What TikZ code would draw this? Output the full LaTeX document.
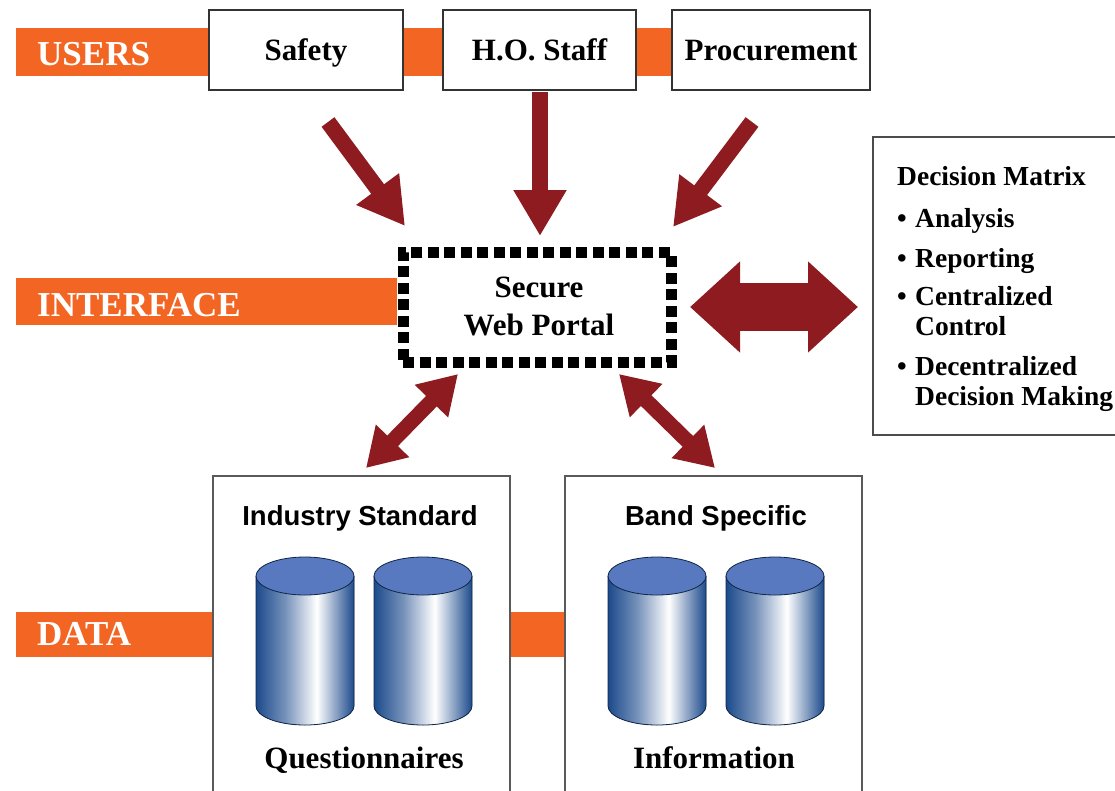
\documentclass[tikz,border=0pt]{standalone}
\usepackage{fontspec}
\setmainfont{Liberation Serif}
\newfontfamily\sansbf{Liberation Sans}
\usetikzlibrary{arrows.meta}
\definecolor{bandc}{HTML}{F26522}
\definecolor{arrc}{HTML}{8E1B20}
\definecolor{cyldark}{HTML}{1C4A8C}
\definecolor{cyltop}{HTML}{5879BF}
\pgfdeclarehorizontalshading{cylshade}{100bp}{color(0bp)=(cyldark); color(25bp)=(cyldark); color(40bp)=(cyldark!60!white); color(56bp)=(white); color(75bp)=(cyldark); color(100bp)=(cyldark)}
\newcommand\mycyl[3]{%
  \fill[shading=cylshade] (#1-49,#2) -- (#1-49,#3) arc[start angle=180,end angle=360,x radius=49pt,y radius=19pt] -- (#1+49,#2) -- cycle;
  \draw[cyldark!50!black, line width=0.8pt] (#1-49,#2) -- (#1-49,#3) arc[start angle=180,end angle=360,x radius=49pt,y radius=19pt] -- (#1+49,#2);
  \draw[fill=cyltop, draw=cyldark!50!black, line width=0.8pt] (#1,#2) ellipse[x radius=49pt,y radius=19pt];
}
\newcommand\dmbul{\makebox[18pt][l]{\textbullet}}
\begin{document}
\begin{tikzpicture}[x=1pt,y=-1pt,
  userbox/.style={draw=black!80, line width=1.6pt, fill=white, inner sep=0pt, minimum height=80pt},
  databox/.style={draw=black!65, line width=1.8pt, fill=white, inner sep=0pt},
  bandtxt/.style={font=\fontsize{35}{35}\selectfont\bfseries, text=white, anchor=base west, inner sep=0pt},
  lbl/.style={font=\fontsize{31}{31}\selectfont\bfseries, anchor=base, inner sep=0pt},
  sanslbl/.style={font=\sansbf\fontsize{27.5}{27.5}\selectfont\bfseries, anchor=base, inner sep=0pt},
  dmtxt/.style={font=\fontsize{27.5}{27.5}\selectfont\bfseries, anchor=base west, inner sep=0pt},
  blockarr/.style={draw=arrc, line width=16pt, -{Triangle[width=50pt,length=46pt]}},
  dblarr/.style={draw=arrc, line width=15pt, {Triangle[width=44pt,length=38pt]}-{Triangle[width=44pt,length=38pt]}},
  bigarr/.style={draw=arrc, line width=48pt, {Triangle[width=88pt,length=50pt]}-{Triangle[width=88pt,length=50pt]}}
]
\useasboundingbox (0,0) rectangle (1115,790);

% layer bands
\fill[bandc] (16,28) rectangle (680,76);
\fill[bandc] (16,278) rectangle (397,325);
\fill[bandc] (16,612) rectangle (565,657);
\node[bandtxt] (users) at (37,65) {USERS};
\node[bandtxt] (interface) at (37,316) {INTERFACE};
\node[bandtxt] (data) at (37,645) {DATA};

% user boxes
\node[userbox, minimum width=194pt] (safety) at (306,50) {};
\node[userbox, minimum width=193pt] (hostaff) at (539.5,50) {};
\node[userbox, minimum width=198pt] (proc) at (771,50) {};
\node[lbl] (safetyt) at (safety.center) [yshift=-10pt] {Safety};
\node[lbl] (hostafft) at (hostaff.center) [yshift=-10pt] {H.O. Staff};
\node[lbl] (proct) at (proc.center) [yshift=-10pt] {Procurement};

% portal
\node[draw=black, fill=white, line width=11pt, dash pattern=on 11pt off 5.5pt, line join=miter,
      minimum width=268pt, minimum height=110pt, inner sep=0pt] (portal) at (537,307) {};
\node[lbl] (portal1) at (539,297) {Secure};
\node[lbl] (portal2) at (539,335) {Web Portal};

% decision matrix
\node[draw=black!70, line width=1.8pt, fill=white, minimum width=252pt, minimum height=298pt, inner sep=0pt] (dm) at (999,286) {};
\node[dmtxt] (dm0) at (897,185) {Decision Matrix};
\node[dmtxt] (dm1) at (897,227) {\dmbul Analysis};
\node[dmtxt] (dm2) at (897,267) {\dmbul Reporting};
\node[dmtxt] (dm3) at (897,305) {\dmbul Centralized};
\node[dmtxt] (dm3b) at (915,335) {Control};
\node[dmtxt] (dm4) at (897,375) {\dmbul Decentralized};
\node[dmtxt] (dm4b) at (915,405) {Decision Making};

% data boxes
\node[databox, minimum width=297pt, minimum height=324pt] (ind) at (361.5,638) {};
\node[databox, minimum width=297pt, minimum height=324pt] (bandsp) at (713.5,638) {};
\node[sanslbl] (indt) at (360,525) {Industry Standard};
\node[sanslbl] (bandt) at (716,525) {Band Specific};
\node[lbl] (indq) at (364,768) {Questionnaires};
\node[lbl] (bandq) at (714,768) {Information};

% cylinders
\mycyl{305}{576}{706}
\mycyl{423}{576}{706}
\mycyl{657}{576}{706}
\mycyl{775}{576}{706}

% arrows
\coordinate (a1s) at (328,122);
\coordinate (a1e) at (405,226);
\coordinate (a2s) at (540,92);
\coordinate (a2e) at (540,236);
\coordinate (a3s) at (752,122);
\coordinate (a3e) at (673,227);
\draw[blockarr] (a1s) -- (a1e);
\draw[blockarr] (a2s) -- (a2e);
\draw[blockarr] (a3s) -- (a3e);

\coordinate (hl) at (690,307);
\coordinate (hr) at (858,307);
\draw[bigarr] (hl) -- (hr);

\coordinate (b1a) at (458,374);
\coordinate (b1b) at (366,468);
\coordinate (b2a) at (619,374);
\coordinate (b2b) at (715,468);
\draw[dblarr] (b1a) -- (b1b);
\draw[dblarr] (b2a) -- (b2b);
\end{tikzpicture}
\end{document}
